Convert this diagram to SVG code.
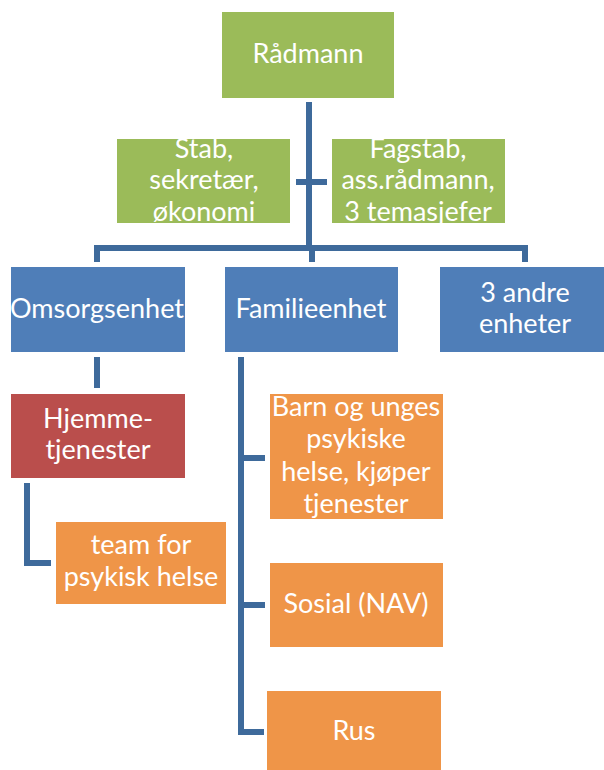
<svg xmlns="http://www.w3.org/2000/svg" width="604" height="770" viewBox="0 0 604 770">
  <style>
    .conn { fill: none; stroke: #3E6A9B; stroke-width: 6; stroke-linejoin: miter; stroke-linecap: butt; }
    .green { fill: #9BBB59; }
    .blue { fill: #4F7EB8; }
    .red { fill: #BA4E4C; }
    .orange { fill: #EF9548; }
    text { font-family: Lato, "Open Sans", "DejaVu Sans", sans-serif; font-size: 27px; fill: #FFFFFF; text-anchor: middle; }
  </style>
  <rect width="604" height="770" fill="#FFFFFF"/>

  <g id="connectors">
    <!-- main trunk and branch bar -->
    <path class="conn" d="M309,102 V248"/>
    <path class="conn" d="M296,182 H327"/>
    <path class="conn" d="M97,262 V248 H525 V262"/>
    <path class="conn" d="M312,248 V262"/>
    <!-- Omsorgsenhet -> Hjemmetjenester -->
    <path class="conn" d="M97,357 V388"/>
    <!-- Hjemmetjenester -> team -->
    <path class="conn" d="M27,483 V563 H51"/>
    <!-- Familieenhet -> subunits -->
    <path class="conn" d="M241,357 V732 H264"/>
    <path class="conn" d="M241,458 H265"/>
    <path class="conn" d="M241,605 H265"/>
  </g>

  <g id="radmann">
    <rect class="green" x="222" y="12" width="172" height="86"/>
    <text x="308" y="63">Rådmann</text>
  </g>

  <g id="stab">
    <rect class="green" x="117" y="139" width="173" height="84"/>
    <text x="204" y="158">Stab,</text>
    <text x="204" y="189">sekretær,</text>
    <text x="204" y="221">økonomi</text>
  </g>

  <g id="fagstab">
    <rect class="green" x="332" y="139" width="173" height="84"/>
    <text x="418" y="158">Fagstab,</text>
    <text x="418" y="189">ass.rådmann,</text>
    <text x="418" y="221">3 temasjefer</text>
  </g>

  <g id="omsorgsenhet">
    <rect class="blue" x="11" y="267" width="174" height="85"/>
    <text x="97" y="318">Omsorgsenhet</text>
  </g>

  <g id="familieenhet">
    <rect class="blue" x="225" y="267" width="173" height="85"/>
    <text x="311" y="318">Familieenhet</text>
  </g>

  <g id="andre-enheter">
    <rect class="blue" x="440" y="267" width="173" height="85"/>
    <text x="525" y="302">3 andre</text>
    <text x="525" y="333">enheter</text>
  </g>

  <g id="hjemmetjenester">
    <rect class="red" x="11" y="394" width="174" height="84"/>
    <text x="98" y="428">Hjemme-</text>
    <text x="98" y="459">tjenester</text>
  </g>

  <g id="team-psykisk-helse">
    <rect class="orange" x="56" y="522" width="170" height="82"/>
    <text x="141" y="554">team for</text>
    <text x="141" y="586">psykisk helse</text>
  </g>

  <g id="barn-unges">
    <rect class="orange" x="270" y="394" width="173" height="125"/>
    <text x="356" y="416">Barn og unges</text>
    <text x="356" y="448">psykiske</text>
    <text x="356" y="481">helse, kjøper</text>
    <text x="356" y="513">tjenester</text>
  </g>

  <g id="sosial">
    <rect class="orange" x="270" y="563" width="173" height="84"/>
    <text x="356" y="613">Sosial (NAV)</text>
  </g>

  <g id="rus">
    <rect class="orange" x="267" y="691" width="174" height="85"/>
    <text x="354" y="740">Rus</text>
  </g>
</svg>
